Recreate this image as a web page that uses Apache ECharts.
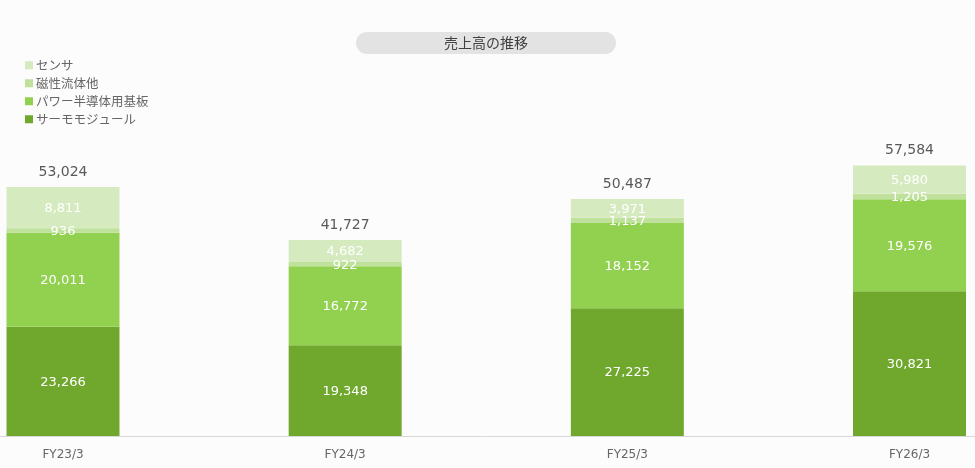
<!DOCTYPE html>
<html><head><meta charset="utf-8">
<script src="https://cdn.jsdelivr.net/npm/echarts@6/dist/echarts.min.js"></script>
<style>html,body{margin:0;padding:0;background:#fcfcfc}#c{width:975px;height:468px}</style>
</head><body><div id="c"></div>
<script>
const categories = ['FY23/3','FY24/3','FY25/3','FY26/3'];
const thermo = [23266, 19348, 27225, 30821];
const power = [20011, 16772, 18152, 19576];
const magnetic = [936, 922, 1137, 1205];
const sensor = [8811, 4682, 3971, 5980];
const totals = [53024, 41727, 50487, 57584];
const names = ['サーモモジュール','パワー半導体用基板','磁性流体他','センサ'];
const colors = ['#70a82e','#92d050','#bfe19b','#d5ebbf'];
const fmt = v => v.toLocaleString('en-US');
const font = 'Verdana, "DejaVu Sans", "Noto Sans CJK JP", sans-serif';

function seg(name, data, color){
  return {name, type:'bar', stack:'s', data, barWidth:113, clip:false,
    itemStyle:{color},
    label:{show:true, position:'inside', offset:[0,1], color:'#ffffff', fontSize:13, fontFamily:font,
      formatter:p=>fmt(p.value)}};
}
const chart = echarts.init(document.getElementById('c'));
chart.setOption({
  backgroundColor:'#fcfcfc',
  animation:false,
  graphic:[{type:'group', children:[
    {type:'rect', shape:{x:356,y:32,width:260,height:22,r:11}, style:{fill:'#e3e3e3'}},
    {type:'text', x:486, y:43, style:{text:'売上高の推移', fill:'#404040', fontSize:14,
      fontFamily:'"Noto Sans CJK JP", sans-serif', align:'center', verticalAlign:'middle'}}
  ]}],
  legend:{orient:'vertical', left:20, top:54, itemWidth:8, itemHeight:8, itemGap:5.5,
    icon:'rect', data:['センサ','磁性流体他','パワー半導体用基板','サーモモジュール'],
    textStyle:{color:'#666666', fontSize:12.5, fontFamily:'"Noto Sans CJK JP", sans-serif', padding:[0,0,0,-2]}},
  grid:[
    {left:63, right:65.5, top:154.2, bottom:32},
    {left:0, right:0, top:154.2, bottom:32}
  ],
  xAxis:[
    {type:'category', data:categories, boundaryGap:false, gridIndex:0,
      axisLine:{show:false}, axisTick:{show:false},
      axisLabel:{color:'#666666', fontSize:12, fontFamily:font, margin:13}},
    {type:'category', data:categories, gridIndex:1,
      axisLine:{lineStyle:{color:'#d9d9d9'}}, axisTick:{show:false}, axisLabel:{show:false}}
  ],
  yAxis:[
    {type:'value', min:0, max:60000, show:false, splitLine:{show:false}, gridIndex:0},
    {type:'value', min:0, max:60000, show:false, splitLine:{show:false}, gridIndex:1}
  ],
  series:[
    seg(names[0], thermo, colors[0]),
    seg(names[1], power, colors[1]),
    seg(names[2], magnetic, colors[2]),
    seg(names[3], sensor, colors[3]),
    {name:'total', type:'bar', stack:'s', data:totals.map(()=>0), barWidth:113, clip:false,
      itemStyle:{color:'transparent'},
      label:{show:true, position:'top', distance:8, color:'#595959', fontSize:14, fontFamily:font,
        formatter:p=>fmt(totals[p.dataIndex])}}
  ]
});
</script></body></html>
